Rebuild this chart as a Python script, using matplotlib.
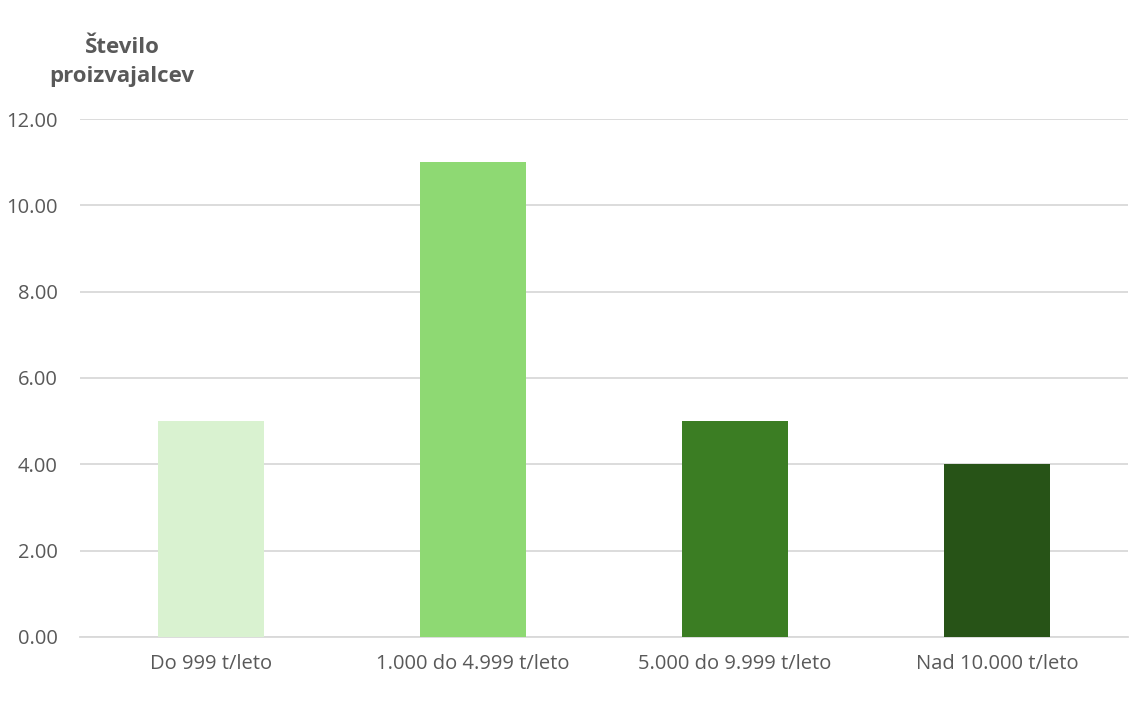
import matplotlib.pyplot as plt
import numpy as np

plt.rcParams['font.family'] = ['Open Sans', 'DejaVu Sans']

categories = ['Do 999 t/leto', '1.000 do 4.999 t/leto', '5.000 do 9.999 t/leto', 'Nad 10.000 t/leto']
values = [5, 11, 5, 4]
colors = ['#D9F2D0', '#8ED973', '#3B7D23', '#275317']
yticks = [0, 2, 4, 6, 8, 10, 12]

fig = plt.figure(figsize=(11.4, 7.2), dpi=100)
ax = fig.add_axes([0.0702, 0.1153, 0.9193, 0.7194])

x = np.arange(len(categories))
ax.bar(x, values, width=0.405, color=colors, zorder=3)

ax.set_xlim(-0.5, len(categories) - 0.5)
ax.set_ylim(0, 12)
ax.set_yticks(yticks)
ax.set_yticklabels([f'{v:.2f}' for v in yticks], fontsize=14.5, color='#595959')
ax.set_xticks(x)
ax.set_xticklabels(categories, fontsize=14.5, color='#595959')
ax.tick_params(axis='x', length=0, pad=12)
ax.tick_params(axis='y', length=0, pad=16)

ax.grid(axis='y', color='#D9D9D9', linewidth=1.3, zorder=0)
for s in ['top', 'right', 'left']:
    ax.spines[s].set_visible(False)
ax.spines['bottom'].set_color('#D9D9D9')
ax.spines['bottom'].set_linewidth(1.3)

fig.text(0.107, 0.914, 'Število\nproizvajalcev', ha='center', va='center',
         fontsize=16, fontweight='bold', color='#595959', linespacing=1.5)

fig.savefig('out.png', dpi=100)
